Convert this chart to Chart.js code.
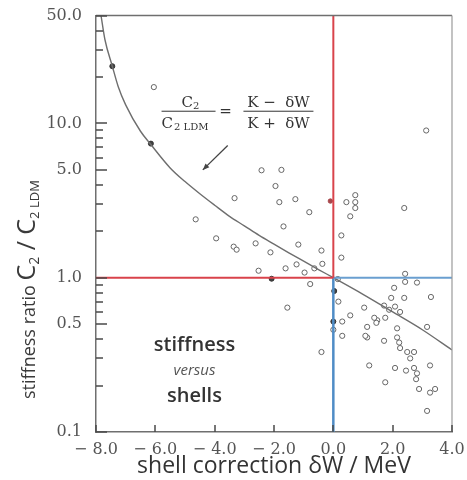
<!DOCTYPE html>
<html>
<head>
<meta charset="utf-8">
<script src="https://cdn.jsdelivr.net/npm/chart.js@4.4.1/dist/chart.umd.min.js"></script>
<style>
  html, body { margin: 0; padding: 0; background: #ffffff; }
  #wrap { width: 467px; height: 480px; }
</style>
</head>
<body>
<div id="wrap"><canvas id="c" width="467" height="480"></canvas></div>
<script>
// ---- data ----
const openX = [-6.05,-2.42,-1.75,-3.33,-4.64,-3.95,-1.95,-1.82,-1.28,-0.81,0.44,0.74,0.74,0.74,0.57,-1.68,0.27,2.39,3.13,
  -3.36,-3.26,-2.62,-2.12,-1.18,-0.40,-2.52,-1.61,-1.24,-0.97,-0.64,-0.37,-0.78,-1.55,-0.40,0.27,0.17,0.30,0.30,0.57,0.15,
  2.42,2.42,2.82,2.05,2.39,1.95,3.29,1.04,1.71,1.88,2.08,2.25,1.75,1.48,1.38,1.14,2.15,3.16,1.14,1.45,1.08,1.71,2.15,2.22,
  2.25,2.49,2.72,2.59,1.21,2.08,2.45,2.72,2.82,2.79,3.26,1.75,2.89,3.26,3.43,3.16,0.00];
const openY = [17.2,4.97,5.0,3.28,2.39,1.80,3.93,3.09,3.23,2.66,3.09,3.43,3.09,2.83,2.50,2.15,1.88,2.83,9.0,
  1.59,1.52,1.67,1.46,1.64,1.50,1.11,1.15,1.22,1.08,1.15,1.23,0.91,0.64,0.33,1.35,0.70,0.52,0.42,0.57,0.98,
  1.06,0.94,0.93,0.86,0.74,0.74,0.75,0.64,0.66,0.62,0.65,0.60,0.55,0.53,0.55,0.48,0.47,0.48,0.41,0.51,0.42,0.39,0.41,0.38,
  0.35,0.33,0.33,0.30,0.27,0.26,0.25,0.26,0.24,0.22,0.27,0.21,0.19,0.18,0.19,0.137,0.46];
const filledX = [-7.45,-6.15,-2.08,0.03,0.00];
const filledY = [23.5,7.4,0.985,0.82,0.52];
const redDotX = [-0.10];
const redDotY = [3.14];
const curveX = [-7.83,-7.7,-7.45,-7.25,-7.0,-6.5,-6.15,-5.5,-5.0,-4.5,-4.0,-3.5,-3.0,-2.5,-2.0,-1.5,-1.0,-0.5,0.0,1.0,2.0,3.0,4.0];
const curveY = [50,35,23.5,17.3,13.2,8.9,7.3,5.15,4.2,3.5,2.95,2.5,2.17,1.88,1.65,1.45,1.28,1.13,1.0,0.78,0.6,0.46,0.34];
const yTickVals = [0.1,0.2,0.3,0.4,0.5,0.6,0.7,0.8,0.9,1,2,3,4,5,6,7,8,9,10,20,30,40,50];
const yLabelVals = [0.1,0.5,1,5,10,50];
const xTickVals = [-8,-6,-4,-2,0,2,4];

const pts = (xs, ys) => xs.map((x, i) => ({x: x, y: ys[i]}));

const serif = '"DejaVu Serif", "Liberation Serif", serif';
const sans = '"Open Sans", "Noto Sans", sans-serif';

const decor = {
  id: 'decor',
  afterDraw(chart) {
    const ctx = chart.ctx, a = chart.chartArea;
    const xs = chart.scales.x, ys = chart.scales.y;
    const px = v => xs.getPixelForValue(v), py = v => ys.getPixelForValue(v);
    ctx.save();
    ctx.setLineDash([]);
    ctx.globalAlpha = 1;
    // frame top/right
    ctx.strokeStyle = '#6f6f6f'; ctx.lineWidth = 1.5;
    ctx.beginPath(); ctx.moveTo(a.left, a.top); ctx.lineTo(a.right, a.top); ctx.stroke();
    ctx.strokeStyle = '#9a9a9a'; ctx.lineWidth = 1.2;
    ctx.beginPath(); ctx.moveTo(a.right, a.top); ctx.lineTo(a.right, a.bottom); ctx.stroke();
    // inward ticks
    ctx.fillStyle = '#4a4a4a';
    for (const v of yTickVals) {
      const y = Math.round(py(v));
      const len = yLabelVals.indexOf(v) >= 0 ? 11 : 7;
      ctx.fillRect(a.left, y - 0.75, len, 1.5);
    }
    for (const v of xTickVals) {
      const x = Math.round(px(v));
      ctx.fillRect(x - 0.75, a.bottom - 7, 1.5, 7);
    }
    // formula annotation
    ctx.fillStyle = '#333'; ctx.strokeStyle = '#333';
    const fy = py(12.0);
    const lc = px(-4.88), rc = px(-1.85), eq = px(-3.63);
    ctx.lineWidth = 1;
    ctx.beginPath(); ctx.moveTo(lc - 27, fy); ctx.lineTo(lc + 27, fy); ctx.stroke();
    ctx.beginPath(); ctx.moveTo(rc - 35, fy); ctx.lineTo(rc + 35, fy); ctx.stroke();
    ctx.textBaseline = 'alphabetic'; ctx.textAlign = 'left';
    ctx.font = '15px ' + serif;
    let w = ctx.measureText('C').width;
    ctx.fillText('C', lc - 7, fy - 4);
    ctx.font = '10px ' + serif; ctx.fillText('2', lc - 7 + w, fy - 2);
    ctx.font = '15px ' + serif;
    ctx.fillText('C', lc - 27, fy + 17);
    ctx.font = '10px ' + serif; ctx.fillText('2 LDM', lc - 27 + w + 1, fy + 19);
    ctx.font = '15px ' + serif; ctx.textAlign = 'center';
    ctx.fillText('=', eq, fy + 5);
    ctx.fillText('K \u2212  \u03b4W', rc, fy - 4);
    ctx.fillText('K +  \u03b4W', rc, fy + 17);
    // arrow
    const ax0 = px(-3.56), ay0 = py(7.2), ax1 = px(-4.4), ay1 = py(5.0);
    ctx.strokeStyle = '#444'; ctx.lineWidth = 1.3;
    ctx.beginPath(); ctx.moveTo(ax0, ay0); ctx.lineTo(ax1, ay1); ctx.stroke();
    const ang = Math.atan2(ay1 - ay0, ax1 - ax0);
    ctx.beginPath();
    ctx.moveTo(ax1, ay1);
    ctx.lineTo(ax1 - 7 * Math.cos(ang - 0.4), ay1 - 7 * Math.sin(ang - 0.4));
    ctx.lineTo(ax1 - 7 * Math.cos(ang + 0.4), ay1 - 7 * Math.sin(ang + 0.4));
    ctx.closePath(); ctx.fillStyle = '#444'; ctx.fill();
    // stiffness versus shells
    ctx.fillStyle = '#333'; ctx.textAlign = 'center'; ctx.textBaseline = 'middle';
    const sx = px(-4.68);
    ctx.font = '600 20px ' + sans; ctx.fillText('stiffness', sx, py(0.365));
    ctx.font = 'italic 15px ' + sans; ctx.fillStyle = '#555'; ctx.fillText('versus', sx, py(0.25));
    ctx.font = '600 20px ' + sans; ctx.fillStyle = '#333'; ctx.fillText('shells', sx, py(0.17));
    // y title (rotated, mixed sizes)
    ctx.save();
    ctx.translate(35, 399); ctx.rotate(-Math.PI / 2);
    ctx.textAlign = 'left'; ctx.textBaseline = 'alphabetic'; ctx.fillStyle = '#3a3a3a';
    let cx = 0;
    const seg = (t, f, dy) => { ctx.font = f; ctx.fillText(t, cx, dy || 0); cx += ctx.measureText(t).width; };
    seg('stiffness ratio ', '18px ' + sans);
    seg('C', '25px ' + sans);
    seg('2', '14px ' + sans, 4);
    seg(' / ', '25px ' + sans);
    seg('C', '25px ' + sans);
    seg('2 LDM', '13px ' + sans, 4);
    ctx.restore();
    ctx.restore();
  }
};

new Chart(document.getElementById('c'), {
  type: 'scatter',
  data: {
    datasets: [
      { data: pts([-8, 0], [1, 1]), showLine: true, borderColor: '#d9434b', borderWidth: 2, pointRadius: 0 },
      { data: pts([0, 0], [1, 50]), showLine: true, borderColor: '#d9434b', borderWidth: 2, pointRadius: 0 },
      { data: pts([0, 4], [1, 1]), showLine: true, borderColor: '#6a9fd0', borderWidth: 2, pointRadius: 0 },
      { data: pts([0, 0], [0.1, 1]), showLine: true, borderColor: '#4f8cc6', borderWidth: 2.5, pointRadius: 0 },
      { data: pts(curveX, curveY), showLine: true, borderColor: '#6e6e6e', borderWidth: 1.4, pointRadius: 0, cubicInterpolationMode: 'monotone' },
      { data: pts(openX, openY), pointRadius: 2.6, pointBackgroundColor: '#ffffff', pointBorderColor: '#666', pointBorderWidth: 1 },
      { data: pts(filledX, filledY), pointRadius: 2.5, pointBackgroundColor: '#444', pointBorderColor: '#333', pointBorderWidth: 1 },
      { data: pts(redDotX, redDotY), pointRadius: 2.2, pointBackgroundColor: '#a8484c', pointBorderColor: '#a8484c', pointBorderWidth: 1 }
    ]
  },
  options: {
    responsive: false,
    animation: false,
    layout: { padding: { left: 0, right: 15, top: 15, bottom: 0 } },
    plugins: { legend: { display: false }, tooltip: { enabled: false } },
    scales: {
      x: {
        type: 'linear', min: -8, max: 4,
        afterBuildTicks: s => { s.ticks = xTickVals.map(v => ({ value: v })); },
        afterFit: s => { s.height = 48; },
        grid: { display: false },
        border: { display: true, color: '#6f6f6f', width: 1.5 },
        ticks: {
          color: '#555', font: { family: serif, size: 16 }, padding: 0, maxRotation: 0,
          callback: v => v < 0 ? '\u2212 ' + Math.abs(v).toFixed(1) : v.toFixed(1)
        },
        title: { display: true, text: 'shell correction \u03b4W / MeV', color: '#333',
          font: { family: sans, size: 23, weight: '500' }, padding: { top: 0, bottom: 0 } }
      },
      y: {
        type: 'logarithmic', min: 0.1, max: 50,
        afterBuildTicks: s => { s.ticks = yTickVals.map(v => ({ value: v })); },
        afterFit: s => { s.width = 96; },
        grid: { display: false },
        border: { display: true, color: '#6f6f6f', width: 1.5 },
        ticks: {
          color: '#555', font: { family: serif, size: 16 }, padding: 6, autoSkip: false,
          callback: v => yLabelVals.includes(v) ? Number(v).toFixed(1) : ''
        }
      }
    }
  },
  plugins: [decor]
});
</script>
</body>
</html>
